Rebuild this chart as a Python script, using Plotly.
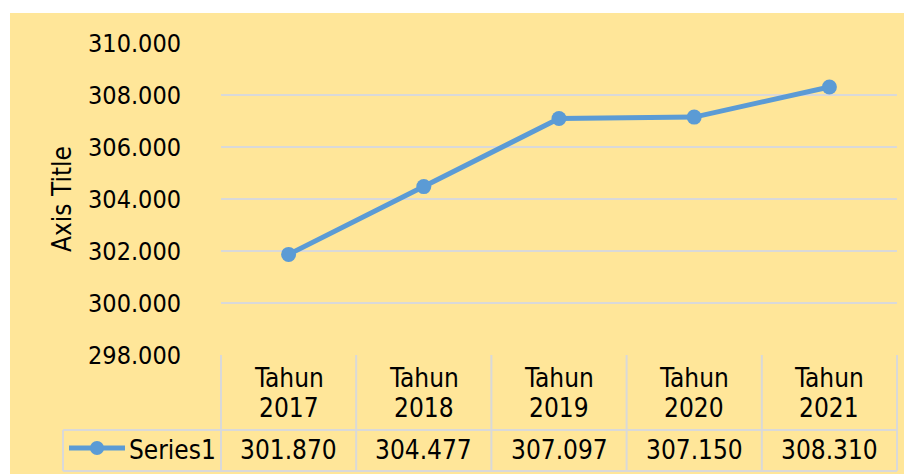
import plotly.graph_objects as go

categories = ["Tahun 2017", "Tahun 2018", "Tahun 2019", "Tahun 2020", "Tahun 2021"]
values = [301870, 304477, 307097, 307150, 308310]
series_name = "Series1"
y_ticks = [298000, 300000, 302000, 304000, 306000, 308000, 310000]
axis_title = "Axis Title"

OFF = 8  # page body margin offset
W, H = 912 - OFF, 474 - OFF
L, T = 221 - OFF, 43 - OFF
PW, PH = 676, 312
R = W - L - PW
B = H - T - PH

def px(x):
    return (x - OFF - L) / PW

def py(y):
    return (H - B - (y - OFF)) / PH

YELLOW = "#FFE699"
BLUE = "#5B9BD5"
GRID = "#D9D9D9"
FONT = "DejaVu Sans Condensed, Tahoma, Liberation Sans, sans-serif"
TXT = dict(size=26, family=FONT, color="#000")
TICK = dict(size=25, family=FONT, color="#000")

def fmt(v):
    return f"{v:,}".replace(",", ".")

fig = go.Figure()
fig.add_trace(go.Scatter(
    x=categories, y=values, mode="lines+markers", name=series_name,
    line=dict(color=BLUE, width=5), marker=dict(color=BLUE, size=15),
    showlegend=False, hoverinfo="skip",
))

shapes = []
shapes.append(dict(type="rect", xref="paper", yref="paper",
                   x0=px(10), x1=px(912 + 20), y0=py(13), y1=py(474 + 20),
                   fillcolor=YELLOW, line=dict(width=0), layer="below"))
n = len(categories)
lw = 2
for k in range(n + 1):
    shapes.append(dict(type="line", xref="paper", yref="paper",
                       x0=k / n, x1=k / n, y0=0, y1=py(471),
                       line=dict(color=GRID, width=lw)))
for yy in (430, 471):
    shapes.append(dict(type="line", xref="paper", yref="paper",
                       x0=px(63), x1=1, y0=py(yy), y1=py(yy),
                       line=dict(color=GRID, width=lw)))
shapes.append(dict(type="line", xref="paper", yref="paper",
                   x0=px(63), x1=px(63), y0=py(430), y1=py(471),
                   line=dict(color=GRID, width=lw)))
shapes.append(dict(type="line", xref="paper", yref="paper",
                   x0=px(69), x1=px(125), y0=py(448), y1=py(448),
                   line=dict(color=BLUE, width=5)))
shapes.append(dict(type="circle", xref="paper", yref="paper",
                   xsizemode="pixel", ysizemode="pixel",
                   xanchor=px(97), yanchor=py(448), x0=-7, x1=7, y0=-7, y1=7,
                   fillcolor=BLUE, line=dict(width=0)))

annotations = []
for c, v in zip(categories, values):
    word, year = c.split(" ")
    annotations.append(dict(x=c, y=py(378), xref="x", yref="paper", text=word,
                            showarrow=False, font=TXT, xanchor="center", yanchor="middle"))
    annotations.append(dict(x=c, y=py(408), xref="x", yref="paper", text=year,
                            showarrow=False, font=TXT, xanchor="center", yanchor="middle"))
    annotations.append(dict(x=c, y=py(450), xref="x", yref="paper", text=fmt(v),
                            showarrow=False, font=TXT, xanchor="center", yanchor="middle"))
annotations.append(dict(x=px(127), y=py(450), xref="paper", yref="paper",
                        text=series_name, showarrow=False, font=TXT,
                        xanchor="left", yanchor="middle"))
annotations.append(dict(x=px(62), y=py(199), xref="paper", yref="paper",
                        text=axis_title, showarrow=False, textangle=-90, font=TXT,
                        xanchor="center", yanchor="middle"))

fig.update_layout(
    width=W, height=H,
    margin=dict(l=L, r=R, t=T, b=B, pad=0),
    paper_bgcolor="white", plot_bgcolor="rgba(0,0,0,0)",
    separators=",.",
    shapes=shapes, annotations=annotations,
    xaxis=dict(type="category", range=[-0.5, n - 0.5], showticklabels=False,
               showgrid=False, zeroline=False, showline=False, ticks=""),
    yaxis=dict(range=[y_ticks[0], y_ticks[-1]], tickvals=y_ticks,
               ticktext=[fmt(t) for t in y_ticks],
               showgrid=True, gridcolor=GRID, gridwidth=2, zeroline=False,
               showline=False, ticks="outside", ticklen=34,
               tickcolor="rgba(0,0,0,0)", tickfont=TICK),
)

fig.write_html("out.html")
